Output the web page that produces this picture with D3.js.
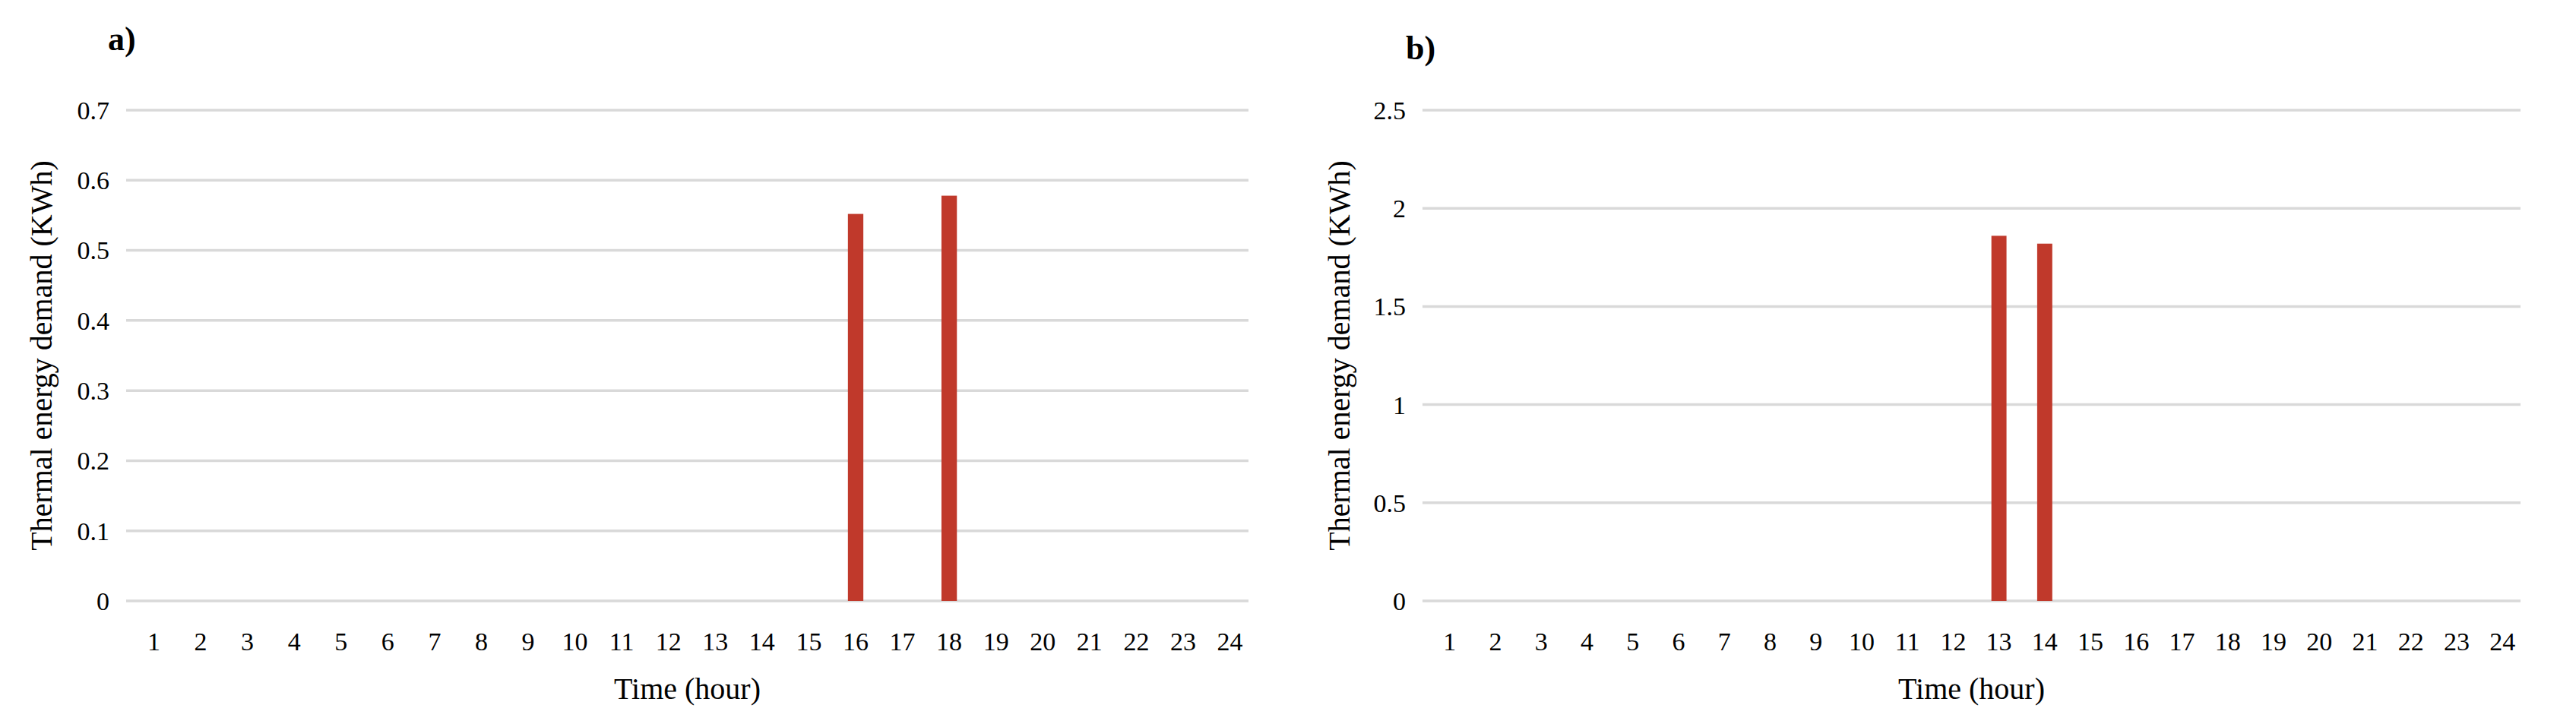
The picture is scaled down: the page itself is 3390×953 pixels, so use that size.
<!DOCTYPE html>
<html><head><meta charset="utf-8">
<script src="https://cdn.jsdelivr.net/npm/d3@7"></script>
<style>body{margin:0;background:#fff}text{font-family:"Liberation Serif","DejaVu Serif",serif;fill:#000}</style>
</head><body><svg id="svg" width="3390" height="953"></svg>
<script>
const hours = d3.range(1, 25).map(String);
const demandA = [0,0,0,0,0,0,0,0,0,0,0,0,0,0,0,0.552,0,0.578,0,0,0,0,0,0];
const demandB = [0,0,0,0,0,0,0,0,0,0,0,0,1.86,1.82,0,0,0,0,0,0,0,0,0,0];
const ticksA = [0,0.1,0.2,0.3,0.4,0.5,0.6,0.7];
const ticksB = [0,0.5,1,1.5,2,2.5];

const svg = d3.select("#svg");

function panel(cnf) {
    let g = svg.append("g");
    let x = d3.scaleBand().domain(hours).range([cnf.x0 + 6, cnf.x1 + 6]).paddingInner(0.67).paddingOuter(0.33);
    let y = d3.scaleLinear().domain([0, cnf.max]).range([791, 145]);
    cnf.ticks.forEach(t => {
        g.append("line").attr("x1", cnf.x0).attr("x2", cnf.x1)
            .attr("y1", y(t)).attr("y2", y(t))
            .attr("stroke", "#d9d9d9").attr("stroke-width", 3.5);
        g.append("text").attr("x", cnf.x0 - 22).attr("y", y(t)).attr("dy", "0.35em")
            .attr("text-anchor", "end").attr("font-size", 34).text(t);
    });
    g.selectAll("rect").data(cnf.values).enter().append("rect")
        .attr("x", (d, i) => x(hours[i])).attr("width", x.bandwidth())
        .attr("y", d => y(d)).attr("height", d => y(0) - y(d))
        .attr("fill", "#c0392b");
    hours.forEach(h => {
        g.append("text").attr("x", x(h) + x.bandwidth() / 2).attr("y", 856)
            .attr("text-anchor", "middle").attr("font-size", 34).text(h);
    });
    g.append("text").attr("x", (cnf.x0 + cnf.x1) / 2).attr("y", 920)
        .attr("text-anchor", "middle").attr("font-size", 40).text("Time (hour)");
    g.append("text").attr("transform", `translate(${cnf.yl},${(145 + 791) / 2}) rotate(-90)`)
        .attr("dy", "0.35em").attr("text-anchor", "middle").attr("font-size", 40)
        .text("Thermal energy demand (KWh)");
    g.append("text").attr("x", cnf.lx).attr("y", cnf.ly).attr("font-size", 44)
        .attr("font-weight", "bold").text(cnf.label);
}

panel({x0: 166, x1: 1643, max: 0.7, ticks: ticksA, values: demandA, yl: 54, label: "a)", lx: 142, ly: 66});
panel({x0: 1872, x1: 3317, max: 2.5, ticks: ticksB, values: demandB, yl: 1762, label: "b)", lx: 1850, ly: 78});
</script></body></html>
